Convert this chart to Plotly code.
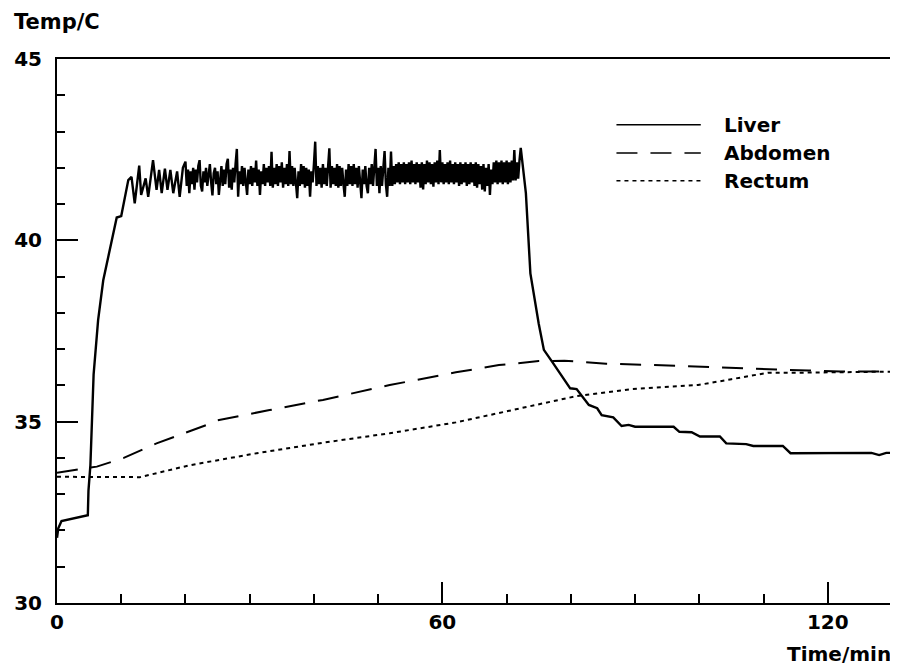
import plotly.graph_objects as go

# ---------------- data ----------------
# Liver: warm-up part (explicit time / temperature pairs)
liver_rise_t = [0.0, 0.2, 0.7, 4.8, 4.9, 5.2, 5.7, 6.3, 6.4, 7.2, 8.2, 9.3, 10.0, 11.1, 11.6,
                12.1, 12.8, 13.1, 13.8, 14.2, 14.95, 15.5, 15.9, 16.3, 16.8, 17.2, 17.65,
                18.1, 18.7, 19.1, 19.6]
liver_rise_T = [31.8, 32.06, 32.26, 32.42, 33.1, 33.8, 36.3, 37.5, 37.8, 38.9, 39.73, 40.63, 40.67, 41.66, 41.75,
                41.02, 42.06, 41.25, 41.71, 41.2, 42.21, 41.39, 41.94, 41.3, 41.98, 41.39, 41.94,
                41.3, 41.9, 41.2, 42.0]

# Liver: heating plateau, sampled every 0.2 min from t = 20.0 min
liver_plateau_start = 20.0
liver_plateau_step = 0.2
liver_plateau_T = [
    42.17, 41.5, 41.95, 41.3, 41.9, 41.55, 42.0, 41.4, 41.95, 41.6,
    42.05, 42.21, 41.5, 41.35, 41.9, 41.6, 42.0, 41.5, 41.9, 42.1,
    41.6, 41.24, 41.85, 42.0, 41.55, 41.9, 41.25, 41.8, 42.05, 41.5,
    41.95, 41.55, 42.1, 42.25, 41.45, 41.95, 41.4, 42.0, 41.6, 42.1,
    42.52, 41.2, 41.9, 41.55, 42.05, 41.5, 42.0, 41.6, 41.25, 41.95,
    41.55, 42.05, 41.5, 42.0, 41.6, 42.2, 41.5, 41.95, 41.25, 41.9,
    41.55, 42.1, 41.5, 42.0, 41.6, 42.05, 41.5, 42.44, 41.45, 42.0,
    41.55, 42.1, 41.5, 42.05, 41.6, 42.15, 41.45, 42.0, 41.55, 42.1,
    41.5, 42.46, 41.55, 42.05, 41.5, 42.0, 41.45, 41.16, 41.9, 41.5,
    42.1, 41.55, 42.05, 41.45, 42.0, 41.5, 41.95, 41.2, 41.9, 41.6,
    42.1, 42.72, 41.5, 42.05, 41.55, 42.0, 41.45, 42.1, 41.55, 42.0,
    41.5, 42.1, 42.54, 41.45, 42.05, 41.55, 42.0, 41.5, 42.1, 41.45,
    42.05, 41.5, 42.0, 41.55, 41.2, 41.95, 41.5, 42.1, 41.55, 42.05,
    41.5, 42.1, 41.55, 42.0, 41.45, 42.05, 41.5, 41.16, 41.95, 41.55,
    42.05, 41.5, 41.3, 42.0, 41.55, 42.1, 41.5, 42.0, 42.52, 41.5,
    42.0, 41.3, 42.05, 41.5, 42.1, 42.46, 41.55, 41.2, 42.0, 41.5,
    42.45, 41.5, 42.05, 41.55, 42.1, 41.6, 42.15, 41.55, 42.1, 41.6,
    42.15, 41.55, 42.1, 41.6, 42.15, 41.55, 42.2, 41.6, 42.1, 41.55,
    42.15, 41.6, 42.1, 41.45, 42.15, 41.4, 42.1, 41.55, 42.2, 41.6,
    42.15, 41.55, 42.1, 41.48, 42.15, 41.6, 42.2, 41.55, 42.49, 41.6,
    42.15, 41.55, 42.1, 41.6, 42.15, 41.55, 42.2, 41.6, 42.1, 41.55,
    42.15, 41.6, 42.1, 41.5, 42.15, 41.55, 42.1, 41.6, 42.15, 41.5,
    42.1, 41.55, 42.15, 41.6, 42.1, 41.5, 42.15, 41.45, 42.1, 41.55,
    42.05, 41.4, 42.1, 41.35, 42.0, 41.5, 42.1, 41.25, 41.95, 41.55,
    42.15, 41.6, 42.2, 41.55, 42.15, 41.6, 42.2, 41.55, 42.15, 41.6,
    42.2, 41.55, 42.15, 41.6, 42.2, 41.65, 42.49, 41.65, 42.15, 41.7,
    42.2, 42.55,
]

# Liver: cooling part
liver_cool_t = [73.0, 73.7, 75.0, 75.8, 77.1, 79.9, 80.9, 82.8, 84.1, 84.8, 86.6, 87.9, 89.0, 90.0,
                96.0, 96.9, 98.8, 100.1, 103.2, 104.2, 107.3, 108.4, 113.0, 114.2, 126.8, 128.0,
                129.1, 130.0]
liver_cool_T = [41.3, 39.09, 37.7, 36.98, 36.65, 35.92, 35.9, 35.46, 35.37, 35.18, 35.12, 34.88, 34.91, 34.86,
                34.86, 34.72, 34.71, 34.59, 34.59, 34.4, 34.38, 34.33, 34.33, 34.13, 34.14, 34.08,
                34.14, 34.14]

abdomen_t = [0.0, 6.2, 10.4, 15.5, 23.3, 24.8, 33.1, 41.4, 51.8, 62.1, 68.8, 75.0, 79.0,
             85.5, 93.0, 100.0, 106.5, 112.0, 117.0, 122.0, 130.0]
abdomen_T = [33.59, 33.76, 34.0, 34.4, 34.91, 35.03, 35.32, 35.6, 36.01, 36.36, 36.56, 36.67, 36.68,
             36.6, 36.56, 36.51, 36.46, 36.44, 36.41, 36.38, 36.38]

rectum_t = [0.0, 12.9, 20.7, 31.1, 41.4, 51.8, 62.1, 68.8, 72.5, 81.0, 89.5, 99.8, 105.0,
            110.7, 115.4, 130.0]
rectum_T = [33.48, 33.47, 33.8, 34.13, 34.42, 34.68, 34.98, 35.24, 35.37, 35.71, 35.9, 36.01, 36.17,
            36.35, 36.35, 36.38]

series_names = ["Liver", "Abdomen", "Rectum"]
x_ticks = [0, 60, 120]
y_ticks = [30, 35, 40, 45]

# ---------------- build ----------------
liver_plateau_t = [round(liver_plateau_start + i * liver_plateau_step, 2)
                   for i in range(len(liver_plateau_T))]
liver_t = liver_rise_t + liver_plateau_t + liver_cool_t
liver_T = liver_rise_T + liver_plateau_T + liver_cool_T

FONT = "DejaVu Sans"
fig = go.Figure()
fig.add_trace(go.Scatter(x=liver_t, y=liver_T, mode="lines", name=series_names[0],
                         line=dict(color="black", width=2.4)))
fig.add_trace(go.Scatter(x=abdomen_t, y=abdomen_T, mode="lines", name=series_names[1],
                         line=dict(color="black", width=2, dash="21px,13px")))
fig.add_trace(go.Scatter(x=rectum_t, y=rectum_T, mode="lines", name=series_names[2],
                         line=dict(color="black", width=2, dash="4px,4px")))

axis_common = dict(showgrid=False, zeroline=False, showline=True, linecolor="black",
                   linewidth=2, mirror=True, ticks="inside", tickcolor="black",
                   tickwidth=1.5, ticklen=21,
                   tickfont=dict(family=FONT, size=20, color="black", weight="bold"))

fig.update_xaxes(range=[0, 130], tickvals=x_ticks, ticktext=[str(v) for v in x_ticks],
                 ticklabelstandoff=0,
                 minor=dict(ticks="inside", dtick=10, tick0=0, ticklen=9, tickwidth=1.5,
                            tickcolor="black", showgrid=False),
                 **axis_common)
fig.update_yaxes(range=[30, 45], tickvals=y_ticks, ticktext=[str(v) for v in y_ticks],
                 ticklabelstandoff=9,
                 minor=dict(ticks="inside", dtick=1, tick0=30, ticklen=8, tickwidth=1.5,
                            tickcolor="black", showgrid=False),
                 **axis_common)

# custom legend (long line samples like the original)
legend_y = [0.879, 0.827, 0.776]
legend_dash = ["solid", "21px,13px", "4px,4px"]
for name, ly, dsh in zip(series_names, legend_y, legend_dash):
    fig.add_shape(type="line", xref="paper", yref="paper", x0=0.670, x1=0.771, y0=ly, y1=ly,
                  line=dict(color="black", width=1.5, dash=dsh))
    fig.add_annotation(text=name, xref="paper", yref="paper", x=0.796, y=ly,
                       xanchor="left", yanchor="middle", showarrow=False,
                       font=dict(family=FONT, size=20, color="black", weight="bold"))

fig.add_annotation(text="Temp/C", xref="paper", yref="paper", x=-0.054, y=1.068,
                   xanchor="left", yanchor="middle", showarrow=False,
                   font=dict(family=FONT, size=21, color="black", weight="bold"))
fig.add_annotation(text="Time/min", xref="paper", yref="paper", x=1.001, y=-0.094,
                   xanchor="right", yanchor="middle", showarrow=False,
                   font=dict(family=FONT, size=20, color="black", weight="bold"))

# the page body adds an 8px margin, so the figure is 8px smaller than the window
fig.update_layout(width=890, height=659, margin=dict(l=49, r=4, t=51, b=64),
                  plot_bgcolor="white", paper_bgcolor="white", showlegend=False)

fig.write_html("out.html")
